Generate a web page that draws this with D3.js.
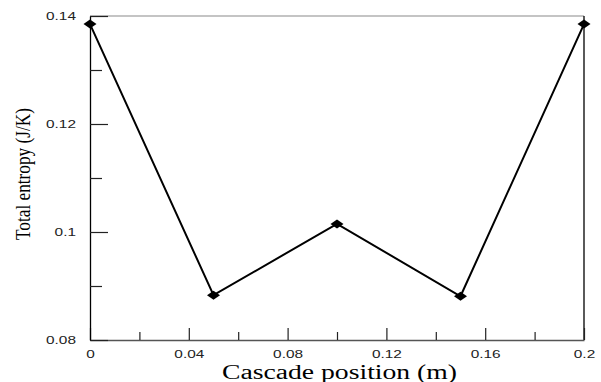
<!DOCTYPE html>
<html lang="en">
  <head>
    <meta charset="UTF-8" />
    <title>Total entropy vs cascade position</title>
    <script src="https://d3js.org/d3.v7.min.js"></script>
    <style>
      body { margin: 0; background: #fff; }
    </style>
  </head>
  <body>
    <svg width="601" height="382"></svg>

    <script>
      // Data
      const positions = [0, 0.05, 0.1, 0.15, 0.2];
      const entropy = [0.1385, 0.0883, 0.1015, 0.0881, 0.1385];
      const xMajorTicks = [0, 0.04, 0.08, 0.12, 0.16, 0.2];
      const xMinorTicks = [0.02, 0.06, 0.1, 0.14, 0.18];
      const yMajorTicks = [0.08, 0.1, 0.12, 0.14];
      const yMinorTicks = [0.09, 0.11, 0.13];

      const svg = d3.select('svg');
      const mLeft = 90, mRight = 584, mTop = 16, mBottom = 340;

      const x = d3.scaleLinear().domain([0, 0.2]).range([mLeft, mRight]);
      const y = d3.scaleLinear().domain([0.08, 0.14]).range([mBottom, mTop]);

      const fmt = (d) => (d === 0 ? '0' : d3.format('~g')(d));

      // frame: top and right lines
      svg.append('line')
        .attr('x1', mLeft).attr('x2', mRight).attr('y1', mTop).attr('y2', mTop)
        .attr('stroke', '#8a8a8a').attr('stroke-width', 1.2);
      svg.append('line')
        .attr('x1', mRight).attr('x2', mRight).attr('y1', mTop).attr('y2', mBottom)
        .attr('stroke', '#000').attr('stroke-width', 1.3);

      // bottom axis (ticks pointing inward)
      const gx = svg.append('g').attr('transform', `translate(0,${mBottom})`);
      gx.call(d3.axisBottom(x).tickValues(xMajorTicks).tickSizeInner(-12).tickSizeOuter(0).tickFormat(fmt));
      const gxMinor = svg.append('g').attr('transform', `translate(0,${mBottom})`);
      gxMinor.call(d3.axisBottom(x).tickValues(xMinorTicks).tickSizeInner(-8).tickSizeOuter(0).tickFormat(''));
      gxMinor.select('.domain').remove();

      // left axis (ticks pointing inward)
      const gy = svg.append('g').attr('transform', `translate(${mLeft},0)`);
      gy.call(d3.axisLeft(y).tickValues(yMajorTicks).tickSizeInner(-18).tickSizeOuter(0).tickFormat(fmt));
      const gyMinor = svg.append('g').attr('transform', `translate(${mLeft},0)`);
      gyMinor.call(d3.axisLeft(y).tickValues(yMinorTicks).tickSizeInner(-12).tickSizeOuter(0).tickFormat(''));
      gyMinor.select('.domain').remove();

      gx.select('.domain').attr('stroke', '#555').attr('stroke-width', 1.3);
      gy.select('.domain').attr('stroke', '#000').attr('stroke-width', 1.3);
      svg.selectAll('.tick line').attr('stroke', '#222').attr('stroke-width', 1.2);

      // stretched sans tick labels
      svg.selectAll('.tick text')
        .attr('font-family', 'Liberation Sans, Arial, sans-serif')
        .attr('font-size', 11)
        .attr('fill', '#222');
      gx.selectAll('.tick text')
        .attr('dy', null).attr('y', 18.5)
        .attr('transform', 'scale(1.4,1)');
      gy.selectAll('.tick text')
        .attr('x', -10).attr('dy', '0.35em')
        .attr('transform', 'scale(1.4,1)');

      // data line
      const line = d3.line().x((d, i) => x(positions[i])).y((d) => y(d));
      svg.append('path')
        .datum(entropy)
        .attr('fill', 'none')
        .attr('stroke', '#000')
        .attr('stroke-width', 2)
        .attr('d', line);

      // diamond markers
      svg.selectAll('.marker')
        .data(entropy)
        .enter()
        .append('path')
        .attr('class', 'marker')
        .attr('transform', (d, i) => `translate(${x(positions[i])},${y(d)})`)
        .attr('d', 'M-6.5,0L0,-4.5L6.5,0L0,4.5Z')
        .attr('fill', '#000');

      // axis titles
      svg.append('text')
        .attr('x', 339.5)
        .attr('y', 379)
        .attr('text-anchor', 'middle')
        .attr('font-family', 'Liberation Serif, Times New Roman, serif')
        .attr('font-size', 20)
        .attr('textLength', 235)
        .attr('lengthAdjust', 'spacingAndGlyphs')
        .text('Cascade position (m)');

      svg.append('text')
        .attr('transform', 'translate(30,174) rotate(-90)')
        .attr('text-anchor', 'middle')
        .attr('font-family', 'Liberation Serif, Times New Roman, serif')
        .attr('font-size', 22)
        .attr('textLength', 132)
        .attr('lengthAdjust', 'spacingAndGlyphs')
        .text('Total entropy (J/K)');
    </script>
  </body>
</html>
